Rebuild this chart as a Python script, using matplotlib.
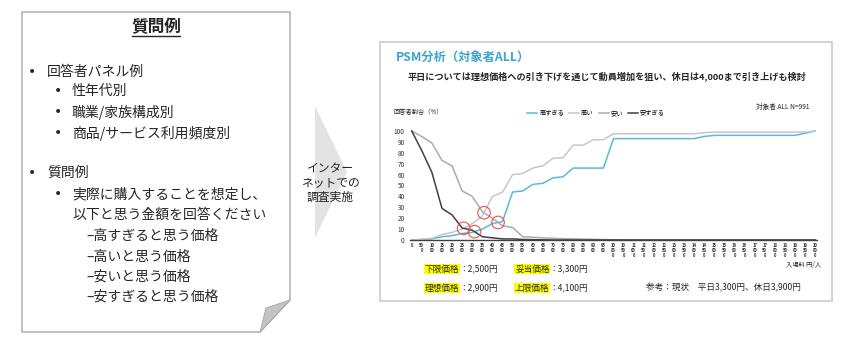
import matplotlib
matplotlib.use('Agg')
import matplotlib.pyplot as plt
from matplotlib.patches import Polygon, Ellipse
from matplotlib.lines import Line2D

plt.rcParams['font.family'] = ['Noto Sans CJK JP', 'DejaVu Sans']

# ---------------- data ----------------
prices = list(range(0, 20001, 500))
series_names = ['高すぎる', '高い', '安い', '安すぎる']
too_expensive = [0, 0.5, 1, 3, 4, 6, 7, 10, 15, 17, 44, 45, 51, 52, 57, 58, 66, 66, 66, 66,
                 93, 93, 93, 93, 93, 93, 93, 93, 93, 95, 96, 96, 96, 96, 96, 96, 96, 96, 96, 98, 100]
expensive = [0, 0.5, 1.5, 5, 7, 10, 15, 22, 40, 44, 60, 61, 66, 68, 75, 75.5, 87, 87, 92, 92,
             97.5, 97.5, 97.5, 97.5, 97.5, 97.5, 97.5, 97.5, 97.5, 98.5, 99, 99, 99, 99, 99, 99, 99, 99, 99, 99, 100]
cheap = [100, 95, 89, 73, 68, 45, 40, 26, 20, 13, 11.5, 3, 2.5, 2, 1.5, 1.2, 1, 0.8, 0.6, 0.4,
         0.2, 0, 0, 0, 0, 0, 0, 0, 0, 0, 0, 0, 0, 0, 0, 0, 0, 0, 0, 0, 0]
too_cheap = [100, 82, 62, 29, 23, 11, 9, 3, 2, 1, 1, 0.5, 0.3, 0.2, 0, 0, 0, 0, 0, 0,
             0, 0, 0, 0, 0, 0, 0, 0, 0, 0, 0, 0, 0, 0, 0, 0, 0, 0, 0, 0, 0]
y_ticks = list(range(0, 101, 10))
x_labels = ['\n'.join(str(p)[k:k + 2] for k in range(0, len(str(p)), 2)) for p in prices]

price_points = [('下限価格', '2,500円'), ('妥当価格', '3,300円'),
                ('理想価格', '2,900円'), ('上限価格', '4,100円')]

# ---------------- figure ----------------
W, H = 860, 356
fig = plt.figure(figsize=(W / 100, H / 100), dpi=100)


def fx(x):
    return x / W


def fy(y):
    return 1 - y / H


def poly(pts, **kw):
    kw.setdefault('zorder', 0.5)
    fig.add_artist(Polygon([(fx(a), fy(b)) for a, b in pts], closed=True,
                           transform=fig.transFigure, **kw))


def txt(x, y, s, **kw):
    kw.setdefault('va', 'center')
    kw.setdefault('color', '#262626')
    fig.text(fx(x), fy(y), s, **kw)


# ---- left note card ----
poly([(22, 12), (290, 12), (290, 300), (260, 332), (22, 332)],
     facecolor='white', edgecolor='#A6A6A6', lw=1.0)
poly([(260, 332), (290, 300), (266, 308)], facecolor='#C4C4C4', edgecolor='#A6A6A6', lw=0.6)

txt(156, 27, '質問例', ha='center', fontsize=12, fontweight='bold')
fig.add_artist(Line2D([fx(132), fx(180)], [fy(36), fy(36)], transform=fig.transFigure,
                      color='#262626', lw=1.0))

left_items = [
    (32, 47, 72, '回答者パネル例'),
    (58, 72, 91, '性年代別'),
    (58, 72, 112, '職業/家族構成別'),
    (58, 72, 133, '商品/サービス利用頻度別'),
    (32, 47, 173, '質問例'),
    (58, 72, 194, '実際に購入することを想定し、'),
    (None, 72, 215, '以下と思う金額を回答ください'),
    (None, 86, 236, '–高すぎると思う価格'),
    (None, 86, 257, '–高いと思う価格'),
    (None, 86, 277, '–安いと思う価格'),
    (None, 86, 297, '–安すぎると思う価格'),
]
for bx, tx, ty, s in left_items:
    if bx is not None:
        txt(bx, ty, '•', fontsize=10, ha='center', family='DejaVu Sans')
    txt(tx, ty, s, fontsize=10)

# ---- middle chevron ----
poly([(315, 106), (347, 172), (315, 238)], facecolor='#E3E3E3', edgecolor='none')
txt(330, 183, 'インター\nネットでの\n調査実施', ha='center', fontsize=8.5, linespacing=1.1)

# ---- right panel ----
poly([(380, 42), (832, 42), (832, 301), (380, 301)], facecolor='white', edgecolor='#D4D4D4', lw=1.5)
txt(396, 58, 'PSM分析（対象者ALL）', fontsize=8.8, fontweight='bold', color='#3BA3D0')
txt(607, 77, '平日については理想価格への引き下げを通じて動員増加を狙い、休日は4,000まで引き上げも検討',
    ha='center', fontsize=6.6, fontweight='bold')
txt(393, 112, '回答者割合（%）', fontsize=4.5)
txt(810, 107, '対象者 ALL N=991', ha='right', fontsize=4.8)
txt(821, 265, '入場料 円/人', ha='right', fontsize=4.5)

ax = fig.add_axes([fx(410.2), fy(240), (816.8 - 410.2) / W, 109 / H])
ax.set_zorder(3)
xs = list(range(len(prices)))
colors = ['#5BB8DA', '#C3C6CC', '#ABABAB', '#404040']
all_series = [too_expensive, expensive, cheap, too_cheap]
handles = []
for name, vals, c in zip(series_names, all_series, colors):
    h, = ax.plot(xs, vals, color=c, lw=1.1, clip_on=False, label=name)
    handles.append(h)


def crossing(a, b):
    for i in range(len(a) - 1):
        d0, d1 = a[i] - b[i], a[i + 1] - b[i + 1]
        if d0 * d1 < 0:
            t = d0 / (d0 - d1)
            return i + t, a[i] + t * (a[i + 1] - a[i])
    return None


for a, b in [(expensive, too_cheap), (too_expensive, too_cheap),
             (expensive, cheap), (too_expensive, cheap)]:
    cx, cy = crossing(a, b)
    ax.add_patch(Ellipse((cx, cy), 1.25, 11.5, facecolor='none', edgecolor='#E8534A',
                         lw=0.8, clip_on=False, zorder=5))

ax.set_xlim(-0.15, 40.15)
ax.set_ylim(0, 100)
ax.set_yticks(y_ticks)
ax.set_yticklabels([str(v) for v in y_ticks])
ax.set_xticks(xs)
ax.set_xticklabels(x_labels, fontsize=3, linespacing=1.0, color='#333333', fontweight='bold',
                   va='top')
ax.tick_params(axis='y', length=0, labelsize=4.6, labelcolor='#333333', pad=4)
ax.tick_params(axis='x', length=0, pad=2.5)
for s in ['top', 'right', 'left']:
    ax.spines[s].set_visible(False)
ax.spines['bottom'].set_color('#404040')
ax.spines['bottom'].set_linewidth(1.0)
ax.set_facecolor('none')

leg = fig.legend(handles=handles, loc='center', bbox_to_anchor=(fx(596), fy(113)), ncol=4,
                 frameon=False, fontsize=4.5, handlelength=1.6, handletextpad=0.3,
                 columnspacing=0.8)
leg.set_zorder(4)

# ---- price results ----
row_pos = [(425, 269), (515, 269), (425, 288), (515, 288)]
for (label, value), (px, py) in zip(price_points, row_pos):
    txt(px, py, label, fontsize=6.2,
        bbox=dict(facecolor='#FFFF00', edgecolor='none', pad=0.6))
    txt(px + 34, py, '：' + value, fontsize=6.2)
txt(646, 288, '参考：現状　平日3,300円、休日3,900円', fontsize=6.2)

fig.savefig('out.png', dpi=100)
